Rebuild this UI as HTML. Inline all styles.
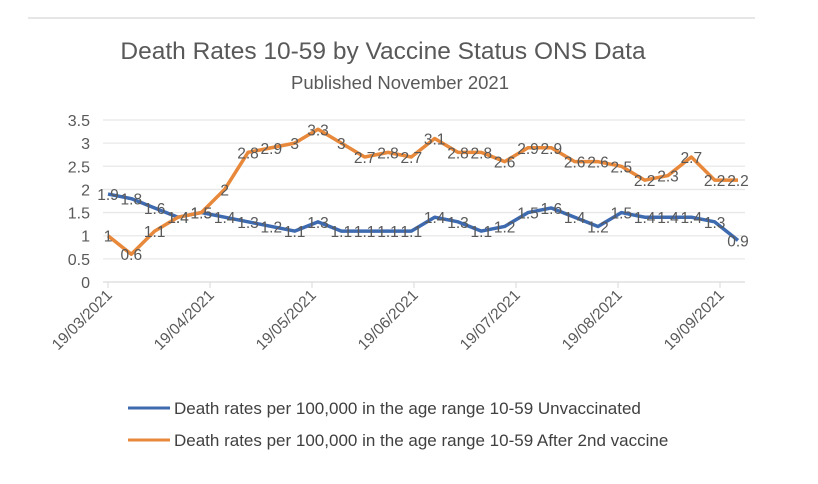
<!DOCTYPE html>
<html><head><meta charset="utf-8"><style>
body{margin:0;background:#fff;font-family:"Liberation Sans",sans-serif;}
svg text{font-family:"Liberation Sans",sans-serif;}
</style></head><body>
<svg id="c" width="818" height="479" viewBox="0 0 818 479">
<rect x="0" y="0" width="818" height="479" fill="#fff"/>
<line x1="28" y1="18" x2="755" y2="18" stroke="#e6e6e6" stroke-width="2"/>
<text x="383" y="59" text-anchor="middle" font-size="24.5" fill="#595959">Death Rates 10-59  by Vaccine Status ONS Data</text>
<text x="400" y="89" text-anchor="middle" font-size="18.5" fill="#595959">Published November 2021</text>
<g id="grid"></g><g id="axes"></g><g id="series"></g>
<line x1="128" y1="408" x2="170" y2="408" stroke="#3e6ab0" stroke-width="3"/>
<text x="174" y="414" font-size="17" fill="#404040">Death rates per 100,000 in the age range 10-59 Unvaccinated</text>
<line x1="128" y1="440" x2="170" y2="440" stroke="#e8883a" stroke-width="3"/>
<text x="174" y="446" font-size="17" fill="#404040">Death rates per 100,000 in the age range 10-59 After 2nd  vaccine</text>
</svg>
<script>
const yTicks=[0,0.5,1,1.5,2,2.5,3,3.5];
const xLabels=["19/03/2021","19/04/2021","19/05/2021","19/06/2021","19/07/2021","19/08/2021","19/09/2021"];
const unvaccinated=[1.9,1.8,1.6,1.4,1.5,1.4,1.3,1.2,1.1,1.3,1.1,1.1,1.1,1.1,1.4,1.3,1.1,1.2,1.5,1.6,1.4,1.2,1.5,1.4,1.4,1.4,1.3,0.9];
const vaccinated=[1,0.6,1.1,1.4,1.5,2,2.8,2.9,3,3.3,3,2.7,2.8,2.7,3.1,2.8,2.8,2.6,2.9,2.9,2.6,2.6,2.5,2.2,2.3,2.7,2.2,2.2];
const NS="http://www.w3.org/2000/svg";
const x0=108,x1=738,y0=282,yTop=120;
const n=unvaccinated.length;
const xs=i=>x0+(x1-x0)*i/(n-1);
const ys=v=>y0-(y0-yTop)*v/3.5;
const xMonth=i=>x0+102*i;
function mk(t,a,p){const e=document.createElementNS(NS,t);for(const k in a)e.setAttribute(k,a[k]);p.appendChild(e);return e;}
const grid=document.getElementById('grid'),axes=document.getElementById('axes'),ser=document.getElementById('series');
yTicks.forEach(v=>{
 const l=mk('line',{x1:x0-5,x2:745,y1:ys(v),y2:ys(v),stroke:v===0?'#d9d9d9':'#e8e8e8','stroke-width':1.3},grid);
 
 
 const t=mk('text',{x:90,y:ys(v)+6,'text-anchor':'end','font-size':16,fill:'#595959'},axes);
 t.textContent=String(v);
 
 
});
xLabels.forEach((s,i)=>{
 const x=xMonth(i);
 mk('line',{x1:x,x2:x,y1:y0,y2:y0+6,stroke:'#d9d9d9'},axes);
 const t=mk('text',{x:x+5,y:y0+14,'text-anchor':'end','font-size':15.5,fill:'#595959',transform:`rotate(-45 ${x+5} ${y0+14})`},axes);
 t.textContent=s;
 
 
});
function draw(data,color,name){
 const p=mk('polyline',{points:data.map((v,i)=>xs(i)+','+ys(v)).join(' '),fill:'none',stroke:color,'stroke-width':3.5,'stroke-linejoin':'round'},ser);
 
 
 data.forEach((v,i)=>{
  const t=mk('text',{x:xs(i),y:ys(v)+6,'text-anchor':'middle','font-size':15.5,fill:'#595959'},ser);
  t.textContent=String(v);
  
  
 });
}
draw(unvaccinated,'#3e6ab0','unvaccinated');
draw(vaccinated,'#e8883a','vaccinated');
</script>
</body></html>
